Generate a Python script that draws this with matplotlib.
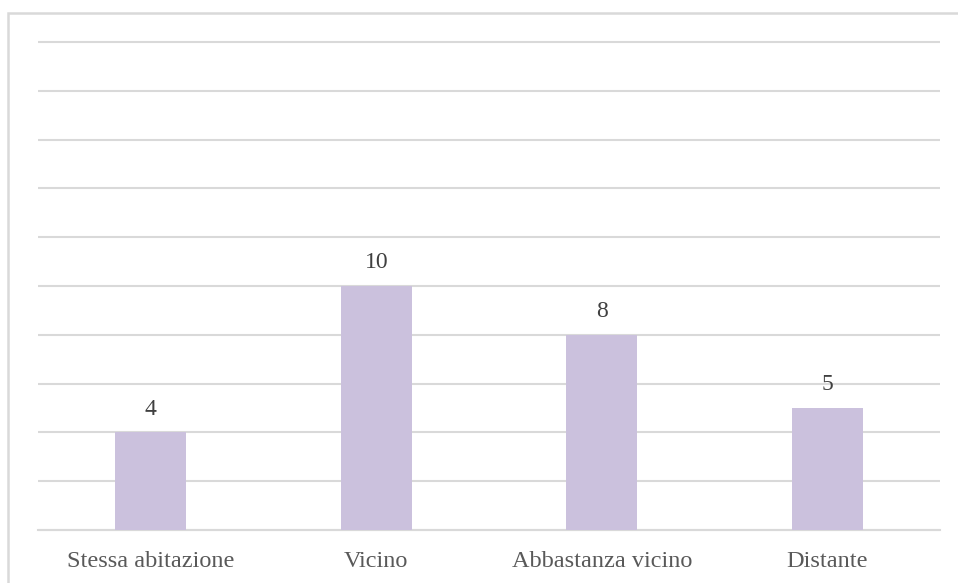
import matplotlib
matplotlib.use("Agg")
import matplotlib.pyplot as plt
from matplotlib.patches import Rectangle

categories = ["Stessa abitazione", "Vicino", "Abbastanza vicino", "Distante"]
values = [4, 10, 8, 5]

W, H = 958, 583
fig = plt.figure(figsize=(W / 100, H / 100), dpi=100)
plt.rcParams["font.family"] = ["Liberation Serif", "DejaVu Serif"]

# outer chart frame, open to the right and bottom
fig.patches.append(Rectangle((8 / W, -0.1), 1.2, 1 - 13 / H + 0.1,
                             transform=fig.transFigure, fill=False,
                             edgecolor="#d9d9d9", linewidth=1.8))

ax = fig.add_axes([38 / W, 1 - 530 / H, (940 - 38) / W, (530 - 42) / H])
x = range(len(categories))
bars = ax.bar(x, values, width=0.315, color="#cbc1dd", zorder=3)
ax.set_xlim(-0.5, len(categories) - 0.5)
ax.set_ylim(0, 20)
ax.set_yticks(range(0, 21, 2))
ax.yaxis.grid(True, color="#d9d9d9", linewidth=1.5, zorder=0)
for gl in ax.get_ygridlines():
    gl.set_clip_on(False)
    gl.set_solid_capstyle("butt")
ax.tick_params(axis="y", length=0, labelleft=False)
ax.tick_params(axis="x", length=0, pad=15, labelsize=17.5, labelcolor="#595959")
ax.set_xticks(list(x))
ax.set_xticklabels(categories)
for s in ["top", "right", "left"]:
    ax.spines[s].set_visible(False)
ax.spines["bottom"].set_color("#d9d9d9")
ax.spines["bottom"].set_linewidth(1.5)

for b, v in zip(bars, values):
    ax.annotate(str(v), (b.get_x() + b.get_width() / 2, v),
                xytext=(0, 9), textcoords="offset points",
                ha="center", va="bottom", fontsize=17, color="#404040")

fig.savefig("out.png", dpi=100)
